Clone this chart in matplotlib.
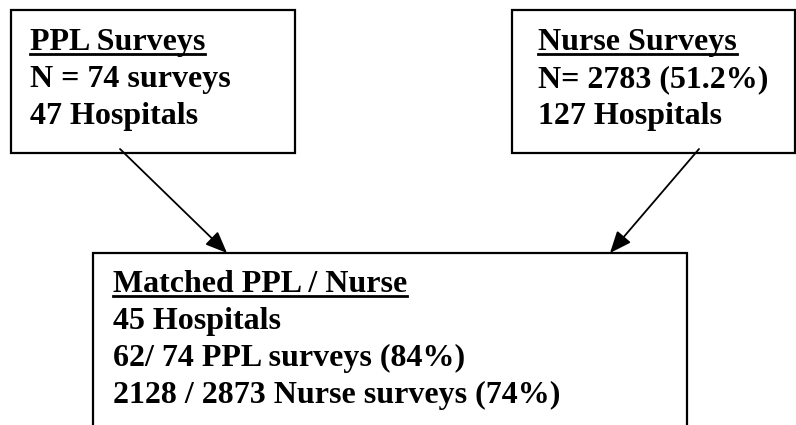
"""Flow diagram: PPL / nurse survey matching."""
import matplotlib

matplotlib.use("Agg")
import matplotlib.pyplot as plt  # noqa: E402
from matplotlib.patches import Rectangle  # noqa: E402

W, H = 796, 425

# box contents: first line is the underlined heading
ppl_lines = ["PPL Surveys", "N = 74 surveys", "47 Hospitals"]
nurse_lines = ["Nurse Surveys", "N= 2783 (51.2%)", "127 Hospitals"]
matched_lines = ["Matched PPL / Nurse", "45 Hospitals",
                 "62/ 74 PPL surveys (84%)", "2128 / 2873 Nurse surveys (74%)"]

FONT = dict(family="Liberation Serif", weight="bold", size=23)
LINE_H = 37

fig = plt.figure(figsize=(W / 100, H / 100), dpi=100)
ax = fig.add_axes([0, 0, 1, 1])
ax.set_xlim(0, W)
ax.set_ylim(H, 0)
ax.axis("off")


def box(x0, y0, x1, y1, lines, tx, ty, open_bottom=False):
    if open_bottom:
        ax.plot([x0, x0, x1, x1], [y1, y0, y0, y1], color="black", lw=1.6,
                solid_joinstyle="miter")
    else:
        ax.add_patch(Rectangle((x0, y0), x1 - x0, y1 - y0, fill=False,
                               edgecolor="black", lw=1.6))
    texts = []
    for i, s in enumerate(lines):
        texts.append(ax.text(tx, ty + i * LINE_H, s, ha="left", va="baseline",
                             color="black", **FONT))
    return texts[0]


heads = [
    box(11, 10, 295, 153, ppl_lines, 30, 50),
    box(512, 10, 795, 153, nurse_lines, 538, 50),
    box(93, 253, 687, 440, matched_lines, 113, 292, open_bottom=True),
]

# arrows into the matched box
for start, end in [((120, 149), (227, 253)), ((699, 149), (610, 253))]:
    ax.annotate("", xy=end, xytext=start,
                arrowprops=dict(arrowstyle="-|>,head_length=0.6,head_width=0.25",
                                color="black", lw=1.3, mutation_scale=22,
                                shrinkA=0, shrinkB=0))

# underline the headings
fig.canvas.draw()
r = fig.canvas.get_renderer()
for t in heads:
    bb = t.get_window_extent(renderer=r)
    x, y = t.get_position()
    ax.plot([bb.x0, bb.x1], [y + 4, y + 4], color="black", lw=2)

fig.savefig("out.png", dpi=100)
